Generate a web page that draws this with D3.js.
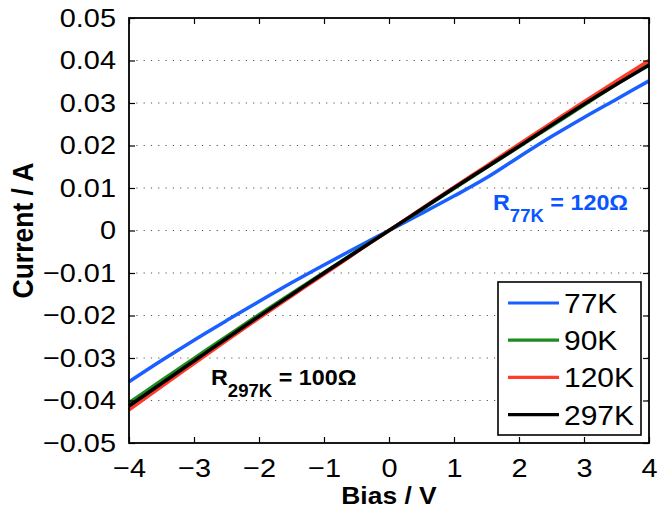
<!DOCTYPE html>
<html>
<head>
<meta charset="utf-8">
<script src="https://cdn.jsdelivr.net/npm/d3@7"></script>
<style>
  html, body { margin: 0; padding: 0; background: #fff; }
  #chart { width: 659px; height: 511px; }
</style>
</head>
<body>
<div id="chart"></div>
<script>
const bias = [-4, -3.5, -3, -2.5, -2, -1.5, -1, -0.5, 0, 0.5, 1, 1.5, 2, 2.5, 3, 3.5, 4];

const current77K = [-0.0356, -0.0306, -0.0258, -0.0212, -0.0167, -0.0123, -0.0081, -0.0040, 0,
    0.0040, 0.0081, 0.0124, 0.0173, 0.0221, 0.0266, 0.0309, 0.0352];
const current90K = [-0.0405, -0.0353, -0.0301, -0.0249, -0.0198, -0.0148, -0.0099, -0.0049, 0,
    0.0049, 0.0099, 0.0148, 0.0197, 0.0246, 0.0295, 0.0344, 0.0392];
const current120K = [-0.0422, -0.0367, -0.0313, -0.0259, -0.0206, -0.0154, -0.0103, -0.0051, 0,
    0.0051, 0.0102, 0.0152, 0.0203, 0.0253, 0.0303, 0.0352, 0.0400];
const current297K = [-0.0413, -0.0360, -0.0307, -0.0254, -0.0202, -0.0151, -0.0100, -0.0050, 0,
    0.0050, 0.0100, 0.0149, 0.0198, 0.0248, 0.0297, 0.0344, 0.0389];

const seriesNames = ["77K", "90K", "120K", "297K"];
const xTicks = [-4, -3, -2, -1, 0, 1, 2, 3, 4];
const yTicks = [-0.05, -0.04, -0.03, -0.02, -0.01, 0, 0.01, 0.02, 0.03, 0.04, 0.05];

const colors = {
    "77K": "#1a5fff",
    "90K": "#1f8a1f",
    "120K": "#ff3b2a",
    "297K": "#000000"
};

const width = 659;
const height = 511;
const margin = { top: 18, right: 10, bottom: 68, left: 129 };
const stretch = 1.09;
const font = "'Liberation Sans', Arial, Helvetica, sans-serif";

const svg = d3.select("#chart").append("svg")
    .attr("width", width)
    .attr("height", height)
    .style("font-family", font);

const x = d3.scaleLinear().domain([-4, 4]).range([margin.left, width - margin.right]);
const y = d3.scaleLinear().domain([-0.05, 0.05]).range([height - margin.bottom, margin.top]);

// widen glyphs a bit, the reference text is slightly stretched horizontally
function widen(sel, k = stretch) {
    sel.each(function () {
        const len = this.getComputedTextLength();
        d3.select(this).attr("textLength", len * k).attr("lengthAdjust", "spacingAndGlyphs");
    });
}

// dotted grid
svg.append("g")
    .selectAll("line")
    .data(yTicks.slice(1, -1))
    .join("line")
    .attr("x1", x(-4)).attr("x2", x(4))
    .attr("y1", d => y(d)).attr("y2", d => y(d))
    .attr("stroke", "#555")
    .attr("stroke-width", 1)
    .attr("stroke-dasharray", "1.2,6.1");

// curves
const line = d3.line()
    .x((d, i) => x(bias[i]))
    .y(d => y(d))
    .curve(d3.curveMonotoneX);

const seriesData = {
    "77K": current77K,
    "90K": current90K,
    "120K": current120K,
    "297K": current297K
};

const curves = svg.append("g");
seriesNames.forEach(name => {
    curves.append("path")
        .datum(seriesData[name])
        .attr("fill", "none")
        .attr("stroke", colors[name])
        .attr("stroke-width", 3.5)
        .attr("stroke-linejoin", "round")
        .attr("d", line);
});

// axes (ticks inward on all sides)
const tickLen = 6;
const fmtY = d => d === 0 ? "0" : d3.format(".2f")(d);

const gx = svg.append("g")
    .attr("transform", `translate(0,${height - margin.bottom})`)
    .call(d3.axisBottom(x).tickValues(xTicks).tickSizeInner(-tickLen).tickSizeOuter(0).tickPadding(tickLen + 9).tickFormat(d3.format("d")));
const gy = svg.append("g")
    .attr("transform", `translate(${margin.left},0)`)
    .call(d3.axisLeft(y).tickValues(yTicks).tickSizeInner(-tickLen).tickSizeOuter(0).tickPadding(tickLen + 7).tickFormat(fmtY));
const gxTop = svg.append("g")
    .attr("transform", `translate(0,${margin.top})`)
    .call(d3.axisTop(x).tickValues(xTicks).tickSizeInner(-tickLen).tickSizeOuter(0).tickFormat(""));
const gyRight = svg.append("g")
    .attr("transform", `translate(${width - margin.right},0)`)
    .call(d3.axisRight(y).tickValues(yTicks).tickSizeInner(-tickLen).tickSizeOuter(0).tickFormat(""));

[gx, gy, gxTop, gyRight].forEach(g => {
    g.select(".domain").remove();
    g.selectAll(".tick line").attr("stroke", "#000").attr("stroke-width", 1.2);
    g.selectAll("text")
        .attr("fill", "#000")
        .style("font-family", font)
        .style("font-size", "26.5px");
});
gx.selectAll("text").attr("dy", "0.71em");
widen(gx.selectAll("text"));
widen(gy.selectAll("text"));

// box
svg.append("rect")
    .attr("x", x(-4)).attr("y", y(0.05))
    .attr("width", x(4) - x(-4))
    .attr("height", y(-0.05) - y(0.05))
    .attr("fill", "none")
    .attr("stroke", "#000")
    .attr("stroke-width", 1.8);

// axis labels
const xLabel = svg.append("text")
    .attr("x", x(0))
    .attr("y", 504)
    .attr("text-anchor", "middle")
    .attr("font-weight", "bold")
    .style("font-size", "24px")
    .text("Bias / V");
widen(xLabel, 1.1);

svg.append("text")
    .attr("transform", `translate(33,${y(0)}) rotate(-90) scale(1,1.1)`)
    .attr("text-anchor", "middle")
    .attr("font-weight", "bold")
    .style("font-size", "26.5px")
    .text("Current / A");

// resistance annotations
function annotate(px, py, sub, value, color) {
    const t = svg.append("text")
        .attr("x", px)
        .attr("y", py)
        .attr("fill", color)
        .attr("font-weight", "bold")
        .style("font-size", "22px");
    t.append("tspan").text("R");
    t.append("tspan").attr("dy", 11.5).style("font-size", "17.5px").text(sub);
    t.append("tspan").attr("dy", -11.5).text(" = " + value + "\u03A9");
    widen(t, 1.06);
}
annotate(211, 385, "297K", 100, "#000");
annotate(493, 210, "77K", 120, "#0a55ff");

// legend
const legend = svg.append("g").attr("transform", "translate(498,282)");
legend.append("rect")
    .attr("width", 143)
    .attr("height", 153)
    .attr("fill", "#fff")
    .attr("stroke", "#000")
    .attr("stroke-width", 1.6);

seriesNames.forEach((name, i) => {
    const g = legend.append("g").attr("transform", `translate(0,${21 + i * 37.2})`);
    g.append("line")
        .attr("x1", 10).attr("x2", 61)
        .attr("y1", 0).attr("y2", 0)
        .attr("stroke", colors[name])
        .attr("stroke-width", 3.2);
    const t = g.append("text")
        .attr("x", 66)
        .attr("y", 10)
        .attr("fill", "#000")
        .style("font-size", "28px")
        .text(name);
    widen(t, 1.07);
});
</script>
</body>
</html>
